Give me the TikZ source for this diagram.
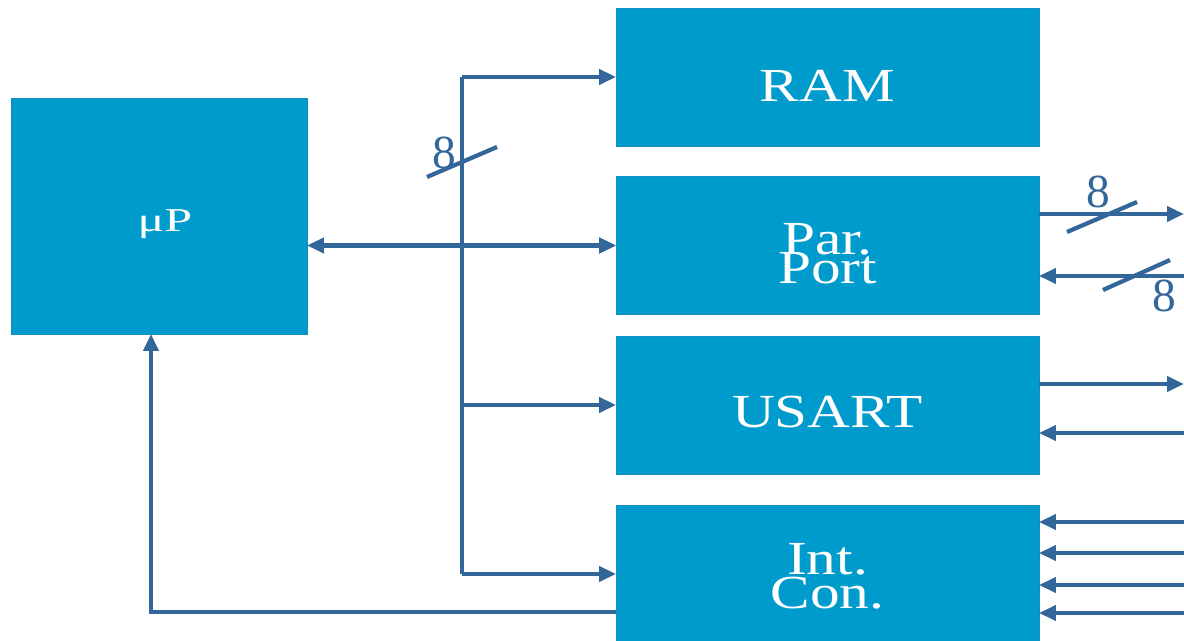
\documentclass[tikz,border=0pt]{standalone}
\usepackage{fontspec}
\setmainfont{Liberation Serif}
\usepackage{tikz}
\usetikzlibrary{arrows.meta, calc}

\definecolor{boxblue}{RGB}{0,155,205}
\definecolor{boxedge}{RGB}{20,140,190}
\definecolor{linkblue}{RGB}{51,102,153}

% box text: first baseline #1 below the centre, lines #2pt apart, stretched sideways
\newcommand{\boxtext}[3]{\raisebox{-#1}[0pt][0pt]{\scalebox{1.25}[1]{\fontsize{27}{#2}\selectfont
  \vtop{\baselineskip=#2pt\lineskiplimit=-\maxdimen\halign{\hfil##\hfil\cr #3\cr}}}}}

\begin{document}
\begin{tikzpicture}[
    x=0.02cm, y=-0.02cm,
    block/.style={rectangle, fill=boxblue, draw=boxedge, line width=0.4pt, outer sep=0pt,
                  text=white, inner sep=0pt},
    wideblock/.style={block, minimum width=8.46cm, minimum height=2.76cm},
    arr/.style={draw=linkblue, line width=2.8pt, -{Triangle[length=0.34cm, width=0.3cm]}},
    darr/.style={arr, {Triangle[length=0.34cm, width=0.3cm]}-{Triangle[length=0.34cm, width=0.3cm]}},
    wire/.style={draw=linkblue, line width=2.8pt},
    slash/.style={draw=linkblue, line width=2.4pt},
    buslabel/.style={text=linkblue, font=\fontsize{27}{27}\selectfont},
]
\useasboundingbox (0,0) rectangle (1184,641);

% ---- blocks ----
\node[block, minimum width=5.92cm, minimum height=4.72cm] (up) at (159,216)
  {\raisebox{-0.32cm}[0pt][0pt]{\hspace*{0.24cm}\scalebox{1.5}[1]{\fontsize{19}{19}\selectfont μP}}};
\node[wideblock] (ram) at (827.5,77) {\boxtext{0.5cm}{16}{RAM}};
\node[wideblock] (pp) at (827.5,245.5) {\boxtext{0.19cm}{16}{Par.\cr Port}};
\node[wideblock] (usart) at (827.5,405) {\boxtext{0.46cm}{16}{USART}};
\node[wideblock] (intcon) at (827.5,574) {\boxtext{0.02cm}{18.8}{Int.\cr Con.}};

% ---- bus ----
\coordinate (bustop) at (462,77);
\coordinate (busbot) at (462,574);
\draw[wire] (bustop) -- (busbot);
\draw[arr] (bustop) -- (bustop -| ram.west);
\draw[arr] (bustop |- pp.west) -- (pp.west);
\draw[arr] (bustop |- usart.west) -- (usart.west);
\draw[arr] (busbot) -- (intcon.west);
\draw[darr] (up.east |- pp.west) -- (pp.west);
\draw[slash] (427,177) -- (497,147);
\node[buslabel] (buswidth) at (444,153) {8};

% interrupt back to the processor
\coordinate (irq) at ($(intcon.west)+(0,38)$);
\coordinate (upin) at ($(up.south)+(-8,0)$);
\draw[arr] (irq) -| (upin);

% ---- outside lines ----
\coordinate (ppout) at (1184,214);
\coordinate (ppin) at (1184,276);
\coordinate (usout) at (1184,384);
\coordinate (usin) at (1184,433);
\draw[arr] (pp.east |- ppout) -- (ppout);
\draw[arr] (ppin) -- (pp.east |- ppin);
\draw[slash] (1067,232) -- (1137,202);
\draw[slash] (1103,290) -- (1170,260);
\node[buslabel] (outwidth) at (1098,192) {8};
\node[buslabel] (inwidth) at (1164,296) {8};

\draw[arr] (usart.east |- usout) -- (usout);
\draw[arr] (usin) -- (usart.east |- usin);

\foreach \y [count=\i] in {522,553,585,613}{
  \coordinate (irq\i) at (1184,\y);
  \draw[arr] (irq\i) -- (intcon.east |- irq\i);
}
\end{tikzpicture}
\end{document}
